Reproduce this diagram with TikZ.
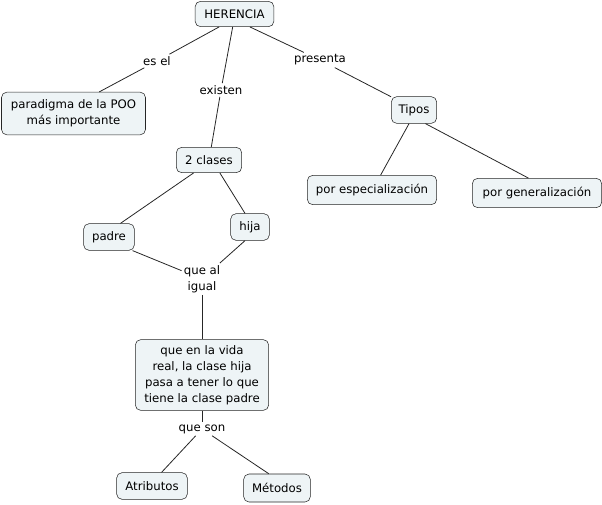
\documentclass[tikz,border=0pt]{standalone}
\usepackage{fontspec}
\setmainfont{DejaVu Sans}
\usepackage{xcolor}
\usetikzlibrary{positioning}
\definecolor{conceptfill}{RGB}{238,244,246}
\begin{document}
\begin{tikzpicture}[
  x=0.75pt, y=-0.75pt,
  font=\fontsize{8.8}{12}\selectfont,
  concept/.style={rectangle, rounded corners=4pt, draw=black!85, fill=conceptfill,
                  inner sep=3pt, minimum height=19pt, align=center},
  linkword/.style={fill=white, inner sep=1.5pt, align=center},
  link/.style={black!85, line width=0.6pt},
]
\useasboundingbox (0,0) rectangle (602,504);
% concepts
\node[concept, minimum width=59pt]  (her)   at (234.5,14)  {HERENCIA};
\node[concept, minimum width=108pt, minimum height=32pt] (parad) at (73.5,113.5)
     {paradigma de la POO\\más importante};
\node[concept, minimum width=49pt]  (dos)   at (209,160)   {2 clases};
\node[concept, minimum width=34pt, minimum height=20pt] (tipos) at (414,110) {Tipos};
\node[concept, minimum width=97pt, minimum height=22pt] (esp) at (372,190) {por especialización};
\node[concept, minimum width=97pt, minimum height=22pt] (gen) at (537,193) {por generalización};
\node[concept, minimum width=38pt, minimum height=20pt] (padre) at (109,237) {padre};
\node[concept, minimum width=29pt, minimum height=20pt] (hija)  at (250,227) {hija};
\node[concept, minimum width=100pt, minimum height=53pt] (vida) at (202,375)
     {que en la vida\\real, la clase hija\\pasa a tener lo que\\tiene la clase padre};
\node[concept, minimum width=53pt, minimum height=20pt] (atr) at (152,486) {Atributos};
\node[concept, minimum width=50pt, minimum height=21pt] (met) at (277,488) {Métodos};
% linking words
\node[linkword] (esel)  at (157,61)  {es el};
\node[linkword] (exis)  at (221,90)  {existen};
\node[linkword] (pres)  at (320,60)  {presenta};
\node[linkword] (igual) at (202,279) {que al\\igual};
\node[linkword] (son)   at (202,429) {que son};
% connectors
\draw[link] (her.220) -- (esel);
\draw[link] (esel) -- (parad.40);
\draw[link] (her.262) -- (exis);
\draw[link] (exis) -- (dos.80);
\draw[link] (her.320) -- (pres);
\draw[link] (pres) -- (tipos.150);
\draw[link] (tipos.250) -- (esp.60);
\draw[link] (tipos.310) -- (gen.120);
\draw[link] (dos.220) -- (padre.50);
\draw[link] (dos.310) -- (hija.110);
\draw[link] (padre.330) -- (igual);
\draw[link] (hija.250) -- (igual);
\draw[link] (igual) -- (vida);
\draw[link] (vida) -- (son);
\draw[link] (son) -- (atr.55);
\draw[link] (son) -- (met.120);
\end{tikzpicture}
\end{document}
